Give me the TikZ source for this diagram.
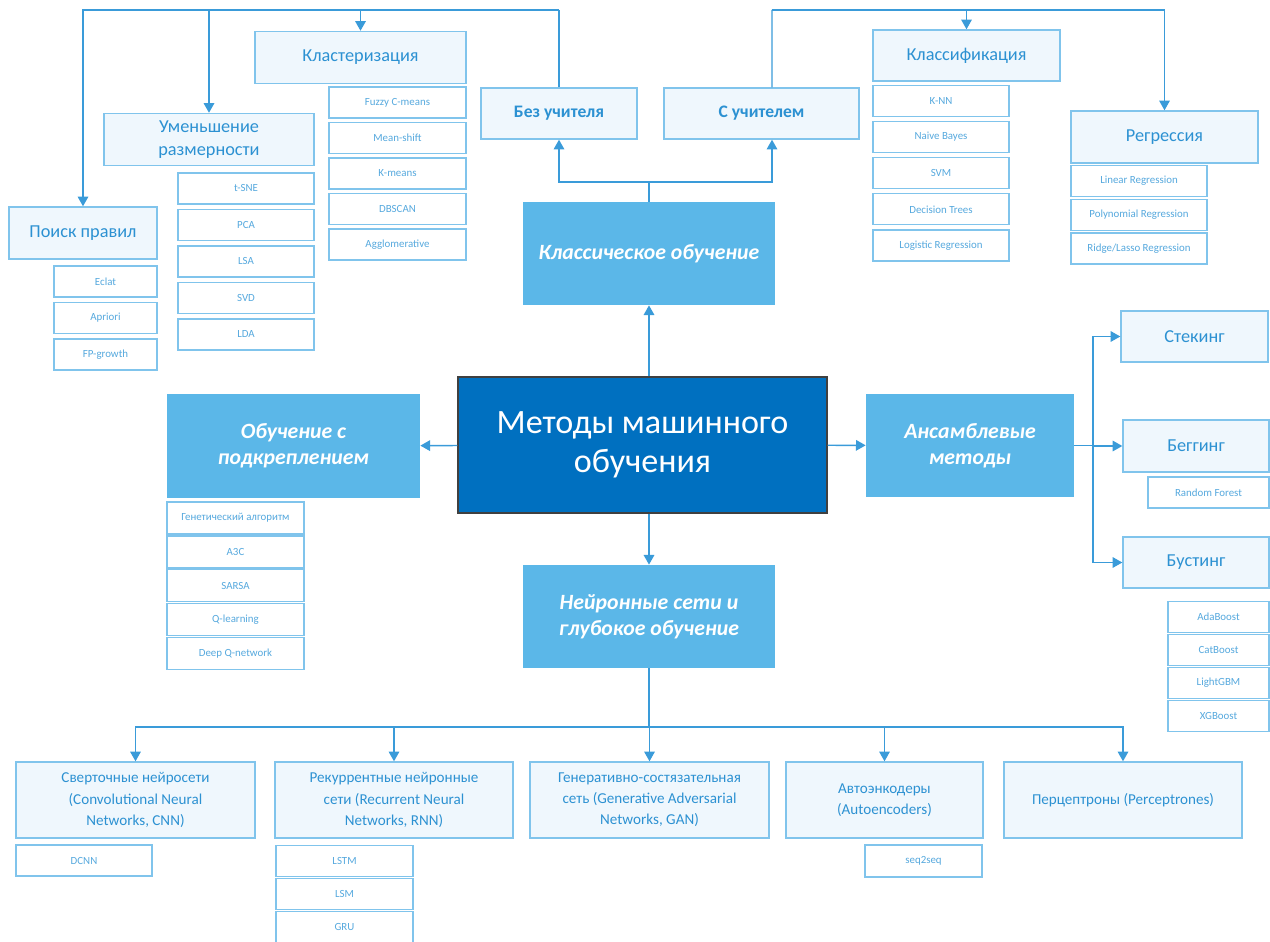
\documentclass[tikz,border=0pt]{standalone}
\usepackage{fontspec}
\setmainfont{Carlito}
\usetikzlibrary{arrows.meta}

\definecolor{mainblue}{HTML}{0070C0}
\definecolor{midblue}{HTML}{5BB7E8}
\definecolor{headfill}{HTML}{EFF7FD}
\definecolor{boxline}{HTML}{80C4EC}
\definecolor{textblue}{HTML}{2C91D2}
\definecolor{itemtext}{HTML}{56A9DE}
\definecolor{linkblue}{HTML}{3A9BD9}

\begin{document}
\begin{tikzpicture}[x=0.02cm,y=-0.02cm,>={Triangle[width=6pt,length=5.5pt]}]

\tikzset{%
every box/.style={
rectangle,
inner sep=0pt,
align=center
},
box size/.style 2 args={
minimum width=#1*0.02cm,
minimum height=#2*0.02cm
},
root box/.style={
every box,
fill=mainblue,
draw=black!75,
line width=0.8pt,
text=white,
font=\fontsize{19.4}{22}\selectfont
},
branch box/.style={
every box,
fill=midblue,
text=white,
font=\fontsize{12.4}{14.8}\selectfont\bfseries\itshape
},
head box/.style={
every box,
fill=headfill,
draw=boxline,
line width=0.8pt,
text=textblue,
font=\fontsize{10.4}{13}\selectfont
},
net box/.style={
head box,
font=\fontsize{8.6}{12}\selectfont
},
sub box/.style={
every box,
fill=white,
draw=boxline,
line width=0.7pt,
text=itemtext,
font=\fontsize{6.2}{7.4}\selectfont
},
link/.style={
draw=linkblue,
line width=0.8pt
}
}

\useasboundingbox (0,0) rectangle (1270,942);

% Root and the four main branches
\node [root box, box size={369}{136}] (main) at (642.5,445) {Методы машинного\\обучения};
\node [branch box, box size={252}{103}] (classic) at (649,253.5) {Классическое обучение};
\node [branch box, box size={253}{104}] (reinf) at (293.5,446) {Обучение с\\подкреплением};
\node [branch box, box size={208}{103}] (ensemble) at (970,445.5) {Ансамблевые\\методы};
\node [branch box, box size={252}{103}] (neural) at (649,616.5) {Нейронные сети и\\глубокое обучение};

\draw [link,->] (main.north -| classic) -- (classic);
\draw [link,->] (main) -- (reinf);
\draw [link,->] (main) -- (ensemble);
\draw [link,->] (main.south -| neural) -- (neural);

% Classical learning: with and without a teacher
\node [head box, box size={156}{51}, font=\fontsize{10}{13}\selectfont\bfseries] (unsup) at (559,113.5) {Без учителя};
\node [head box, box size={195}{51}, font=\fontsize{10}{13}\selectfont\bfseries] (sup) at (761.5,113.5) {С учителем};

\coordinate (fork-top) at (649,182);
\draw [link] (classic) -- (fork-top);
\draw [link,->] (fork-top) -| (unsup);
\draw [link,->] (fork-top) -| ([xshift=0.21cm]sup.south);

% Unsupervised groups
\node [head box, box size={211}{52}] (clust) at (360.5,57.5) {Кластеризация};
\node [head box, box size={210}{52}] (dimred) at (209,139.5) {Уменьшение\\размерности};
\node [head box, box size={148}{52}] (rules) at (83,233) {Поиск правил};

\coordinate (bus-l) at (559,10);
\draw [link] (unsup) -- (bus-l);
\foreach \g in {rules,dimred,clust}
\draw [link,->] (bus-l) -| (\g);

% Supervised groups
\node [head box, box size={187}{51}] (classif) at (966.5,55.5) {Классификация};
\node [head box, box size={187}{52}] (regr) at (1164.5,137) {Регрессия};

\coordinate (bus-r) at (772,10);
\draw [link] ([xshift=0.21cm]sup.north) -- (bus-r);
\foreach \g in {classif,regr}
\draw [link,->] (bus-r) -| (\g);

% Items under each group
\foreach \lbl [count=\i] in {Fuzzy C-means,Mean-shift,K-means,DBSCAN,Agglomerative}
\node [sub box, box size={137}{31}] (clust-\i) at (397.5,{102.5+35.5*(\i-1)}) {\lbl};

\foreach \lbl [count=\i] in {t-SNE,PCA,LSA,SVD,LDA}
\node [sub box, box size={136}{31}] (dimred-\i) at (246,{188.5+36.5*(\i-1)}) {\lbl};

\foreach \lbl [count=\i] in {Eclat,Apriori,FP-growth}
\node [sub box, box size={103}{31}] (rules-\i) at (105.5,{281.5+36.5*(\i-1)}) {\lbl};

\foreach \lbl [count=\i] in {K-NN,Naive Bayes,SVM,Decision Trees,Logistic Regression}
\node [sub box, box size={136}{31}] (classif-\i) at (941,{101+36.1*(\i-1)}) {\lbl};

\foreach \lbl [count=\i] in {Linear Regression,Polynomial Regression,{Ridge/Lasso Regression}}
\node [sub box, box size={136}{31}] (regr-\i) at (1139,{181+33.7*(\i-1)}) {\lbl};

\foreach \lbl [count=\i] in {Генетический алгоритм,A3C,SARSA,Q-learning,Deep Q-network}
\node [sub box, box size={137}{32}] (reinf-\i) at (235.5,{518+33.9*(\i-1)}) {\lbl};

% Ensemble methods
\node [head box, box size={147}{51}] (stack) at (1194.5,336.5) {Стекинг};
\node [head box, box size={146}{52}] (bag) at (1196,446) {Беггинг};
\node [head box, box size={146}{51}] (boost) at (1196,562.5) {Бустинг};

\coordinate (ens-bus) at (1093,445.5);
\draw [link] (ensemble) -- (ens-bus);
\foreach \g in {stack,bag,boost}
\draw [link,->] (ens-bus) |- (\g);

\node [sub box, box size={121}{31}] (bag-1) at (1208.5,492.5) {Random Forest};

\foreach \lbl [count=\i] in {AdaBoost,CatBoost,LightGBM,XGBoost}
\node [sub box, box size={101}{31}] (boost-\i) at (1218.5,{617+33*(\i-1)}) {\lbl};

% Neural networks
\node [net box, box size={239}{76}] (cnn) at (135.5,800) {Сверточные нейросети\\(Convolutional Neural\\Networks, CNN)};
\node [net box, box size={238}{76}] (rnn) at (394,800) {Рекуррентные нейронные\\сети (Recurrent Neural\\Networks, RNN)};
\node [net box, box size={239}{76}] (gan) at (649.5,800) {Генеративно-состязательная\\сеть (Generative Adversarial\\Networks, GAN)};
\node [net box, box size={197}{76}] (autoenc) at (884.5,800) {Автоэнкодеры\\(Autoencoders)};
\node [net box, box size={238}{76}] (perc) at (1123,800) {Перцептроны (Perceptrones)};

\coordinate (nn-bus) at (649,727);
\draw [link] (neural) -- (nn-bus);
\foreach \g in {cnn,rnn,gan,autoenc,perc}
\draw [link,->] (nn-bus) -| (\g);

\node [sub box, box size={136}{31}] (cnn-1) at (84,860.5) {DCNN};

\foreach \lbl [count=\i] in {LSTM,LSM,GRU}
\node [sub box, box size={137}{31}] (rnn-\i) at (344.5,{861+33*(\i-1)}) {\lbl};

\node [sub box, box size={117}{32}] (autoenc-1) at (923.5,861) {seq2seq};

\end{tikzpicture}
\end{document}
